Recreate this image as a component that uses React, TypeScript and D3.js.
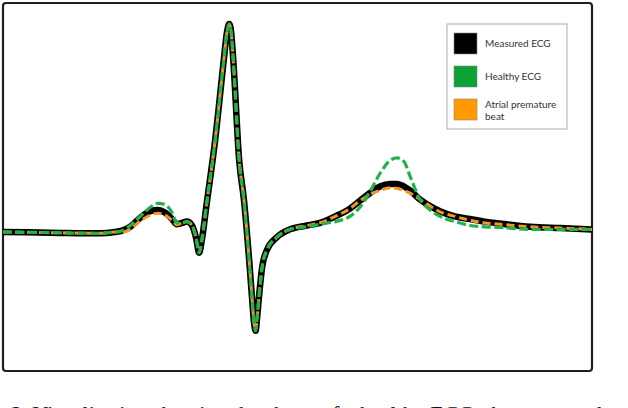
import * as d3 from 'd3';

// time axis (ms) shared by all three traces
const timeMs = [
  0, 80, 165, 190, 202, 216, 233, 250, 263, 275, 287, 295, 304, 312, 321, 328, 333, 338, 345, 360,
  375, 380, 384, 387, 391, 401, 409, 418, 423, 426, 429, 431, 435, 440, 448, 465, 487, 516, 538,
  564, 589, 606, 623, 640, 657, 669, 681, 691, 708, 725, 742, 767, 793, 818, 844, 895, 946, 1000,
];

// amplitude (mV)
const measuredEcg = [
  0, -0.005, -0.01, 0, 0.01, 0.04, 0.11, 0.16, 0.17, 0.15, 0.1, 0.06, 0.07, 0.08, 0.05, -0.05,
  -0.16, -0.05, 0.19, 0.7, 1.33, 1.53, 1.6, 1.55, 1.32, 0.55, 0.25, -0.22, -0.52, -0.69, -0.76,
  -0.68, -0.48, -0.27, -0.14, -0.04, 0.02, 0.05, 0.07, 0.12, 0.18, 0.24, 0.3, 0.35, 0.37, 0.37,
  0.35, 0.32, 0.25, 0.2, 0.16, 0.12, 0.1, 0.08, 0.065, 0.04, 0.03, 0.02,
];

const healthyEcg = [
  0, -0.005, -0.01, 0, 0.01, 0.05, 0.12, 0.19, 0.22, 0.21, 0.15, 0.07, 0.07, 0.08, 0.05, -0.05,
  -0.16, -0.05, 0.19, 0.7, 1.33, 1.53, 1.6, 1.55, 1.32, 0.55, 0.25, -0.22, -0.52, -0.69, -0.76,
  -0.68, -0.48, -0.27, -0.14, -0.04, 0.02, 0.04, 0.06, 0.08, 0.12, 0.19, 0.31, 0.45, 0.55, 0.57,
  0.54, 0.43, 0.25, 0.17, 0.12, 0.08, 0.05, 0.04, 0.035, 0.02, 0.02, 0.02,
];

const atrialPremature = [
  0, -0.005, -0.01, 0, 0, 0.02, 0.085, 0.13, 0.145, 0.13, 0.09, 0.055, 0.07, 0.08, 0.05, -0.05,
  -0.16, -0.05, 0.19, 0.7, 1.33, 1.53, 1.6, 1.55, 1.32, 0.55, 0.25, -0.22, -0.52, -0.69, -0.76,
  -0.68, -0.48, -0.27, -0.14, -0.04, 0.02, 0.05, 0.07, 0.12, 0.18, 0.24, 0.29, 0.32, 0.34, 0.335,
  0.32, 0.3, 0.25, 0.2, 0.155, 0.12, 0.09, 0.07, 0.06, 0.04, 0.03, 0.02,
];

const legendLabels = [['Measured ECG'], ['Healthy ECG'], ['Atrial premature', 'beat']];
const legendColors = ['#000000', '#0ba334', '#ff9a00'];

const caption =
  '2. Visualisation showing the shape of a healthy ECG, the measured and the abnormal heart beat';

export default function App() {
  const width = 628;
  const height = 408;

  const x = d3.scaleLinear().domain([0, 1000]).range([3, 592]);
  const y = d3.scaleLinear().domain([-1, 1.8]).range([362, -2]);

  const line = (vals: number[]) =>
    d3
      .line<number>()
      .x((_, i) => x(timeMs[i]))
      .y((d) => y(d))
      .curve(d3.curveMonotoneX)(vals) || '';

  return (
    <svg
      width={width}
      height={height}
      style={{ position: 'absolute', left: 0, top: 0, overflow: 'hidden', background: '#fff' }}
    >
      {/* frame */}
      <rect x={3} y={3} width={589} height={368} rx={3} fill="#fff" stroke="#1f1f1f" strokeWidth={2.2} />

      <path d={line(measuredEcg)} fill="none" stroke="#000" strokeWidth={6.5} strokeLinejoin="round" />
      <path d={line(atrialPremature)} fill="none" stroke="#f7941d" strokeWidth={3} strokeDasharray="8,4" />
      <path d={line(healthyEcg)} fill="none" stroke="#22b24c" strokeWidth={3.2} strokeDasharray="9,3.5" />

      {/* legend */}
      <g>
        <rect x={447} y={24} width={120} height={105} fill="#fff" stroke="#aaa" strokeWidth={1} />
        {legendLabels.map((lines, i) => {
          const top = 33 + i * 33;
          return (
            <g key={i}>
              <rect x={454} y={top} width={23} height={21} fill={legendColors[i]} stroke="#888" strokeWidth={0.6} />
              {lines.map((t, j) => (
                <text
                  key={j}
                  x={485}
                  y={top + (lines.length > 1 ? 9 : 13.5) + j * 11.5}
                  fontFamily="Lato, 'Open Sans', sans-serif"
                  fontSize={10}
                  fill="#333"
                >
                  {t}
                </text>
              ))}
            </g>
          );
        })}
      </g>

      <text x={11} y={421} fontFamily="'Liberation Serif', 'DejaVu Serif', serif" fontSize={22} fill="#111">
        {caption}
      </text>
    </svg>
  );
}
